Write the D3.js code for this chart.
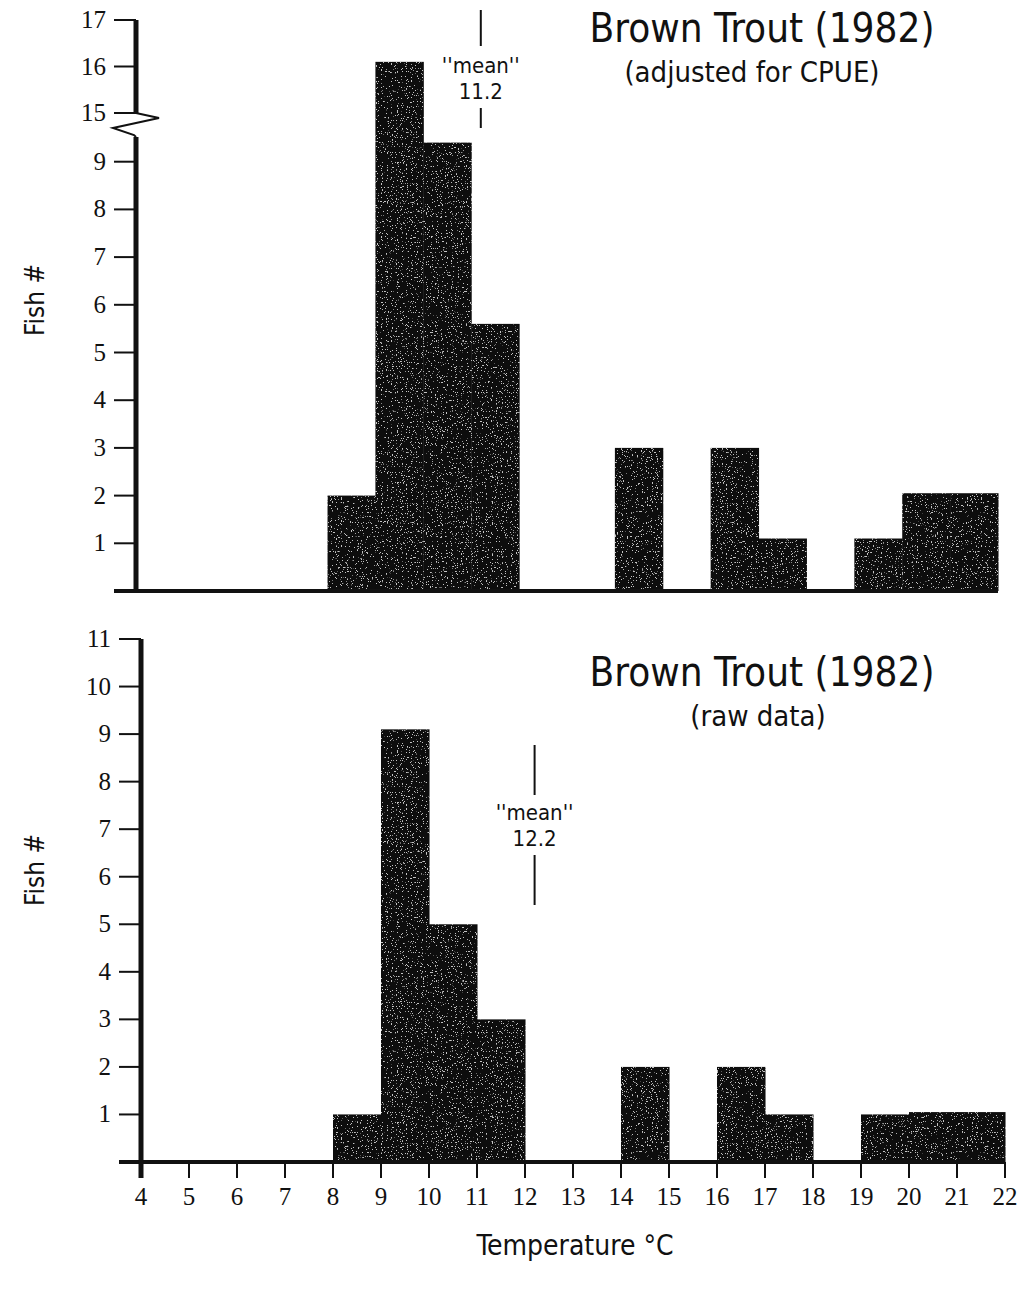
<!DOCTYPE html>
<html>
<head>
<meta charset="utf-8">
<script src="https://d3js.org/d3.v7.min.js"></script>
<style>
  body { margin: 0; background: #fff; }
  svg { display: block; }
  .tick-label { font-family: "Liberation Serif", "DejaVu Serif", serif; font-size: 25px; fill: #111; }
  .title { font-family: "DejaVu Sans Condensed", "DejaVu Sans", sans-serif; fill: #111; }
</style>
</head>
<body>
<svg id="chart" width="1025" height="1289"></svg>
<script>
// histogram bins (lower edge, 1 degree wide)
const binStart = [8, 9, 10, 11, 14, 16, 17, 19, 20, 21];
const cpueCounts = [2, 16.1, 9.4, 5.6, 3, 3, 1.1, 1.1, 2.05, 2.05];
const rawCounts = [1, 9.1, 5, 3, 2, 2, 1, 1, 1.05, 1.05];

const topTicks = [1, 2, 3, 4, 5, 6, 7, 8, 9, 15, 16, 17];
const bottomTicks = [1, 2, 3, 4, 5, 6, 7, 8, 9, 10, 11];
const xTicks = d3.range(4, 23);

const cpueMean = 11.2;
const rawMean = 12.2;

const svg = d3.select("#chart");

// top panel: axis broken between 10 and 15
const xTop = d3.scaleLinear().domain([4, 22]).range([136, 998]);
const yTop = d3.scaleLinear().domain([0, 10, 15, 17]).range([591, 114, 113, 20]);

// bottom panel
const xBot = d3.scaleLinear().domain([4, 22]).range([141, 1005]);
const yBot = d3.scaleLinear().domain([0, 11]).range([1162, 639]);

function panel(g, x, y, counts, ticks, opts) {
    // bars
    g.selectAll("rect.bar")
        .data(binStart.map((b, i) => ({ x0: b, v: counts[i] })))
        .join("rect")
        .attr("class", "bar")
        .attr("x", d => x(d.x0))
        .attr("y", d => y(d.v))
        .attr("width", d => x(d.x0 + 1) - x(d.x0) + 0.5)
        .attr("height", d => y(0) - y(d.v))
        .attr("fill", "#0b0b0b")
        .attr("filter", "url(#grain)");

    // baseline
    g.append("line")
        .attr("x1", x(4) - 22).attr("x2", x(22))
        .attr("y1", y(0)).attr("y2", y(0))
        .attr("stroke", "#111").attr("stroke-width", 4);

    const top = ticks[ticks.length - 1];
    const ax = x(4);
    const below = opts.xLabels ? 16 : 0;
    if (opts.breakAt) {
        const yb = y(opts.breakAt);
        g.append("line")
            .attr("x1", ax).attr("x2", ax)
            .attr("y1", y(0) + below).attr("y2", yb + 24)
            .attr("stroke", "#111").attr("stroke-width", 5);
        g.append("line")
            .attr("x1", ax).attr("x2", ax)
            .attr("y1", yb).attr("y2", y(top))
            .attr("stroke", "#111").attr("stroke-width", 5);
        g.append("path")
            .attr("d", `M${ax},${yb} L${ax + 23},${yb + 5} L${ax - 23},${yb + 15} L${ax - 2},${yb + 22} L${ax},${yb + 24}`)
            .attr("fill", "none").attr("stroke", "#111").attr("stroke-width", 2);
    } else {
        g.append("line")
            .attr("x1", ax).attr("x2", ax)
            .attr("y1", y(0) + below).attr("y2", y(top))
            .attr("stroke", "#111").attr("stroke-width", 5);
    }

    // y ticks
    const yt = g.selectAll("g.ytick").data(ticks).join("g").attr("class", "ytick");
    yt.append("line")
        .attr("x1", ax - 22).attr("x2", ax)
        .attr("y1", d => y(d)).attr("y2", d => y(d))
        .attr("stroke", "#111").attr("stroke-width", 2);
    yt.append("text")
        .attr("class", "tick-label")
        .attr("x", ax - 30).attr("y", d => y(d) + 8)
        .attr("text-anchor", "end")
        .text(d => d);

    // x ticks + labels
    if (opts.xLabels) {
        const xt = g.selectAll("g.xtick").data(xTicks).join("g").attr("class", "xtick");
        xt.append("line")
            .attr("x1", d => x(d)).attr("x2", d => x(d))
            .attr("y1", y(0)).attr("y2", y(0) + 16)
            .attr("stroke", "#111").attr("stroke-width", 2);
        xt.append("text")
            .attr("class", "tick-label")
            .attr("x", d => x(d)).attr("y", y(0) + 43)
            .attr("text-anchor", "middle")
            .text(d => d);
    }

    // mean marker
    const mx = x(opts.mean);
    const m = opts.meanY;
    g.append("line").attr("x1", mx).attr("x2", mx)
        .attr("y1", m[0]).attr("y2", m[1])
        .attr("stroke", "#111").attr("stroke-width", 2);
    g.append("line").attr("x1", mx).attr("x2", mx)
        .attr("y1", m[4]).attr("y2", m[5])
        .attr("stroke", "#111").attr("stroke-width", 2);
    g.append("text").attr("class", "title")
        .attr("x", mx).attr("y", m[2])
        .attr("text-anchor", "middle").attr("font-size", 22)
        .text("''mean''");
    g.append("text").attr("class", "title")
        .attr("x", mx).attr("y", m[3])
        .attr("text-anchor", "middle").attr("font-size", 22)
        .text(opts.mean.toFixed(1));

    // titles
    g.append("text").attr("class", "title")
        .attr("x", 762).attr("y", opts.titleY)
        .attr("text-anchor", "middle").attr("font-size", 40)
        .attr("textLength", 345).attr("lengthAdjust", "spacingAndGlyphs")
        .text("Brown Trout (1982)");
    g.append("text").attr("class", "title")
        .attr("x", opts.subX).attr("y", opts.titleY + 40)
        .attr("text-anchor", "middle").attr("font-size", 29)
        .text(opts.subtitle);

    // y label
    g.append("text").attr("class", "title")
        .attr("transform", `translate(44,${opts.yLabelY}) rotate(-90)`)
        .attr("text-anchor", "middle").attr("font-size", 26)
        .text("Fish #");
}

// speckled print texture
const defs = svg.append("defs");
const f = defs.append("filter").attr("id", "grain").attr("x", 0).attr("y", 0).attr("width", 1).attr("height", 1);
f.append("feTurbulence").attr("type", "fractalNoise").attr("baseFrequency", 0.8).attr("numOctaves", 2).attr("seed", 5).attr("result", "noise");
f.append("feColorMatrix").attr("in", "noise").attr("type", "matrix")
    .attr("values", "0 0 0 0 0.55  0 0 0 0 0.55  0 0 0 0 0.55  0 0 0 -22 7.6")
    .attr("result", "spots");
f.append("feComposite").attr("in", "spots").attr("in2", "SourceGraphic").attr("operator", "in").attr("result", "spotsIn");
f.append("feMerge").selectAll("feMergeNode").data(["SourceGraphic", "spotsIn"]).join("feMergeNode").attr("in", d => d);

panel(svg.append("g"), xTop, yTop, cpueCounts, topTicks, {
    breakAt: 15, xLabels: false, mean: cpueMean,
    meanY: [10, 46, 73, 99, 108, 128],
    titleY: 42, subX: 752, subtitle: "(adjusted for CPUE)", yLabelY: 300
});

panel(svg.append("g"), xBot, yBot, rawCounts, bottomTicks, {
    breakAt: null, xLabels: true, mean: rawMean,
    meanY: [745, 795, 820, 846, 855, 905],
    titleY: 686, subX: 758, subtitle: "(raw data)", yLabelY: 870
});

svg.append("text").attr("class", "title")
    .attr("x", 575).attr("y", 1255)
    .attr("text-anchor", "middle").attr("font-size", 28)
    .text("Temperature \u00B0C");
</script>
</body>
</html>
